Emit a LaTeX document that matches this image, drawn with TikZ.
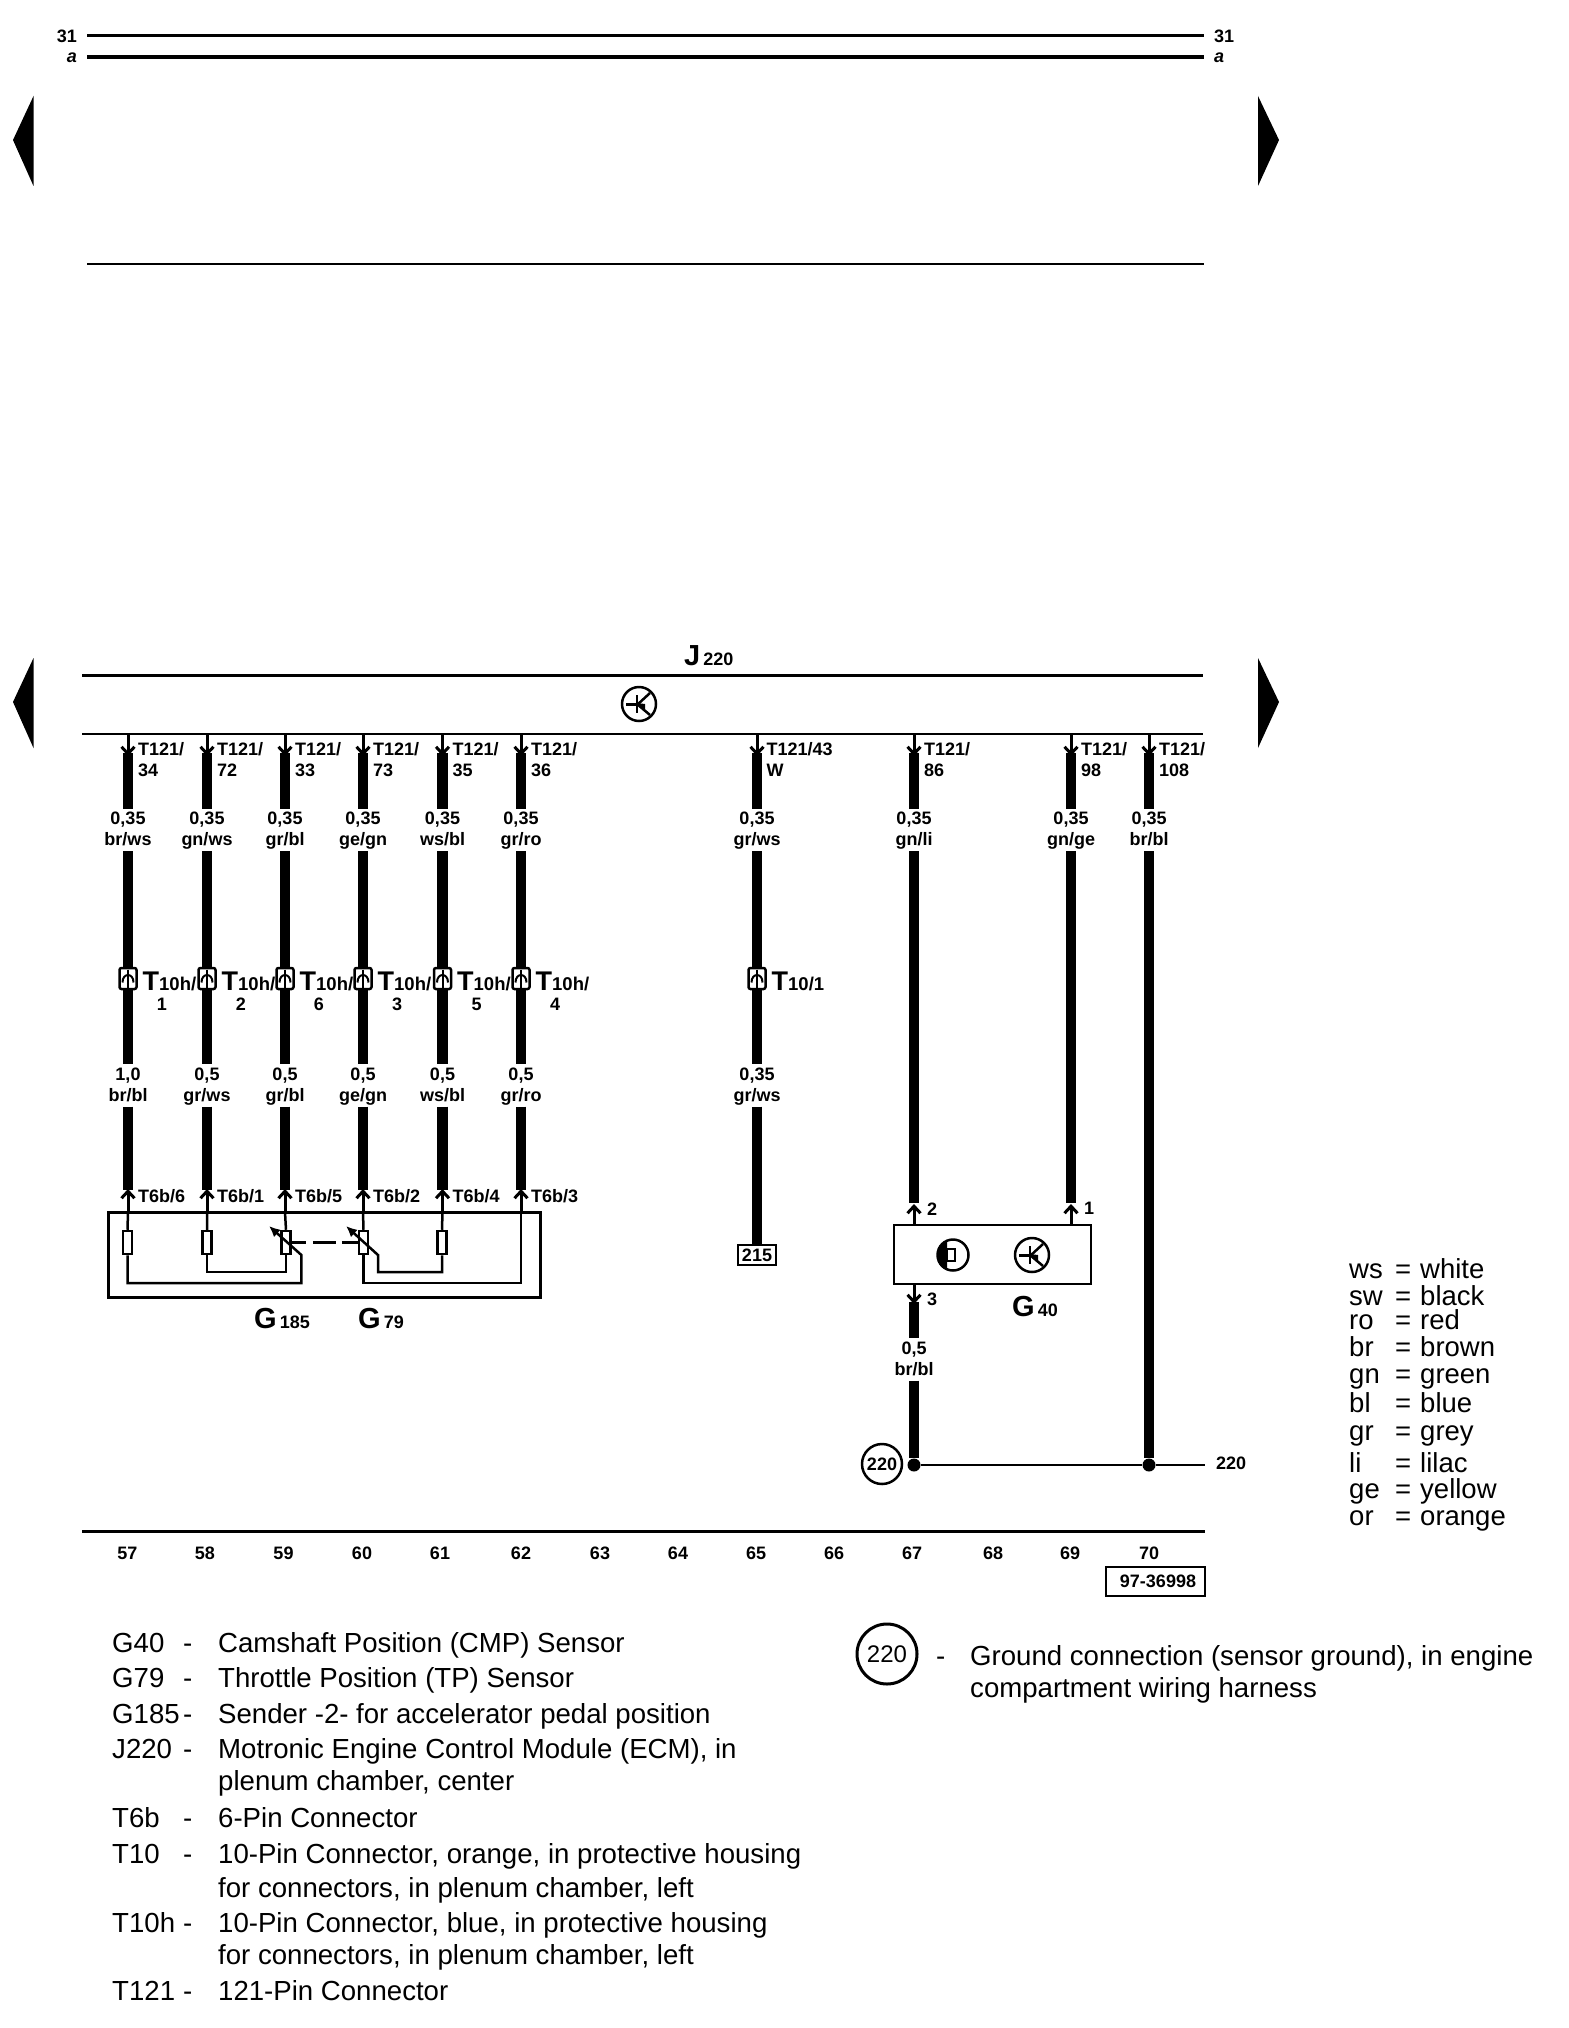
\documentclass[tikz,border=0pt]{standalone}
\usepackage{fontspec}
\setmainfont{Liberation Sans}
\usetikzlibrary{arrows.meta}
\newcommand{\twoline}[2]{#1\rule{0pt}{14pt}\\#2\rule[-4pt]{0pt}{4pt}}
\newcommand{\bigsub}[2]{{\fontsize{29}{29}\selectfont #1}{\fontsize{18}{18}\selectfont\,#2}}
\tikzset{
  wire/.style={line width=10.7pt},
  stub/.style={line width=3pt,->},
  rail/.style={line width=3pt},
  tag/.style={font=\bfseries\fontsize{18}{21}\selectfont,inner sep=0pt},
  gauge/.style={tag,align=center,minimum height=42pt},
  pinlab/.style={tag,align=left,anchor=north west},
  note/.style={font=\fontsize{27.6}{27.6}\selectfont,inner sep=0pt,anchor=base west},
  key/.style={font=\fontsize{27.5}{27.5}\selectfont,inner sep=0pt,anchor=base west},
  housing/.style={draw,line width=2.5pt,fill=white,rounded corners=2pt,inner sep=0pt,minimum width=17pt,minimum height=21pt},
  resistor/.style={draw,line width=2.5pt,fill=white,inner sep=0pt,minimum width=9pt,minimum height=23pt},
  inner/.style={line width=2.5pt},
  dot/.style={circle,fill,inner sep=0pt,minimum size=13pt},
  rotor/.pic={
    \draw[line width=2.5pt](0,0)circle(17);
    \draw[line width=3pt](-13,0)--(0,0);
    \draw[line width=2.5pt](-2,-9)--(-2,9);
    \draw[line width=2.5pt](-2,1)--(11,-11)(-2,0)--(11,11);
    \fill(-2,-1)--(6,0)--(6,8)--cycle;
  },
  hall/.pic={
    \draw[line width=2.5pt](0,0)circle(15.5);
    \fill(-6,14.3)arc(113:247:15.5)--cycle;
    \draw[line width=2.5pt](-6,-6)rectangle(2,6);
  },
  conpin/.pic={
    \draw[line width=2pt](0,-9)--(0,11);
    \draw[line width=2pt](-5.5,4)..controls(-5.5,-6)and(5.5,-6)..(5.5,4);
  }
}
\begin{document}
\begin{tikzpicture}[x=1pt,y=-1pt,>={Straight Barb[length=7pt,width=13pt]}]
\useasboundingbox(0,0)rectangle(1568,2028);
% top rails and page arrows
\node[tag,anchor=east](lt31)at(77,36){31};
\node[tag,anchor=east,font=\bfseries\itshape\fontsize{18}{21}\selectfont](lta)at(77,58){a};
\node[tag,anchor=west](rt31)at(1214,36){31};
\node[tag,anchor=west,font=\bfseries\itshape\fontsize{18}{21}\selectfont](rta)at(1214,58){a};
\draw[rail]([xshift=10pt]lt31.east)--([xshift=-10pt]rt31.west);
\draw[line width=4pt](87,57)--(1204,57);
\draw[line width=2.5pt](87,264)--(1204,264);
\foreach \ty in {96,658}{
  \fill(13,\ty+44)--(33.5,\ty)--(33.5,\ty+90)--cycle;
  \fill(1279,\ty+44)--(1258,\ty)--(1258,\ty+90)--cycle;
}
% control module
\node[tag,anchor=base west](j220)at(684,665){\bigsub{J}{220}};
\draw[rail](82,675)--(1203,675);
\draw[line width=2.5pt](82,734)--(1203,734);
\pic at(639,704){rotor};
% six wires down to the pedal sender
\foreach \wx/\wn/\wt/\wg/\wc/\wi/\wm/\wk/\wz in {
  128/57/34/{br/ws}/1/{1,0}/{br/bl}/6/1,
  207/58/72/{gn/ws}/2/{0,5}/{gr/ws}/1/1,
  285/59/33/{gr/bl}/6/{0,5}/{gr/bl}/5/1,
  363/60/73/{ge/gn}/3/{0,5}/{ge/gn}/2/1,
  442.5/61/35/{ws/bl}/5/{0,5}/{ws/bl}/4/1,
  521/62/36/{gr/ro}/4/{0,5}/{gr/ro}/3/1}{
  \coordinate(top\wn)at(\wx,734);
  \coordinate(tip\wn)at(\wx,756);
  \coordinate(bot\wn)at(\wx,1190);
  \coordinate(box\wn)at(\wx,1212);
  \node[pinlab](pt\wn)at(\wx+10,741.5){T121/\rule{0pt}{14pt}\\\wt};
  \node[gauge](up\wn)at(\wx,830){\twoline{0,35}{\wg}};
  \node[housing](con\wn)at(\wx,978.5){};
  \pic at(\wx,978.5){conpin};
  \node[tag,anchor=base west](ct\wn)at(\wx+14.5,990){{\fontsize{27}{27}\selectfont T}{\fontsize{18.5}{18.5}\selectfont 10h/}};
  \node[tag](cn\wn)at(\wx+34,1004){\wc};
  \node[gauge](lo\wn)at(\wx,1085.5){\twoline{\wi}{\wm}};
  \node[tag,anchor=base west](pb\wn)at(\wx+10,1202.5){T6b/\wk};
  \draw[stub](top\wn)--(tip\wn);
  \draw[wire](\wx,753)--(up\wn.north);
  \draw[wire](up\wn.south)--(con\wn.north);
  \draw[wire](con\wn.south)--(lo\wn.north);
  \draw[wire](lo\wn.south)--(bot\wn);
  \draw[stub](box\wn)--(\wx,1189);
}
% sender housing
\draw[line width=3pt](108.5,1212)rectangle(540.7,1297);
\node[resistor](r57)at(127.5,1242.5){};
\node[resistor](r58)at(207,1242.5){};
\node[resistor](r59)at(286,1242.5){};
\node[resistor](r60)at(363.5,1242.5){};
\node[resistor](r61)at(442,1242.5){};
\draw[inner](box57)--(r57.north)(box58)--(r58.north)(box59)--(r59.north)(box60)--(r60.north)(box61)--(r61.north);
\draw[inner](r58.south)--(207,1272)-|(r59.south);
\draw[inner](r60.south)--(363.5,1283)-|(box62);
\draw[inner,-{Latex[length=11pt,width=10pt]}](r57.south)--(127.5,1283)-|(301.4,1255)--(269,1226);
\draw[inner,-{Latex[length=11pt,width=10pt]}](r61.south)--(442,1272)-|(378,1255)--(346,1226);
\draw[line width=3pt,dash pattern=on 14pt off 7pt on 23pt off 6pt on 17pt](r59.east)--(r60.west);
\node[tag,anchor=base west](g185)at(254,1328){\bigsub{G}{185}};
\node[tag,anchor=base west](g79)at(358,1328){\bigsub{G}{79}};
% wire to connector 215
\coordinate(top65)at(757,734);
\coordinate(tip65)at(757,756);
\node[pinlab](pt65)at(766.5,741.5){T121/43\rule{0pt}{14pt}\\W};
\node[gauge](up65)at(757,830){\twoline{0,35}{gr/ws}};
\node[housing](con65)at(757,978.5){};
\pic at(757,978.5){conpin};
\node[tag,anchor=base west](ct65)at(771.5,990){{\fontsize{27}{27}\selectfont T}{\fontsize{18.5}{18.5}\selectfont 10/1}};
\node[gauge](lo65)at(757,1085.5){\twoline{0,35}{gr/ws}};
\node[draw,line width=2.5pt,tag,minimum width=38pt,minimum height=20pt](c215)at(757,1255){215};
\draw[stub](top65)--(tip65);
\draw[wire](757,753)--(up65.north);
\draw[wire](up65.south)--(con65.north);
\draw[wire](con65.south)--(lo65.north);
\draw[wire](lo65.south)--(c215.north);
% camshaft sensor
\node[draw,line width=2.5pt,inner sep=0pt,minimum width=197pt,minimum height=59pt](g40)at(992.5,1254.5){};
\pic at(953,1255){hall};
\pic at(1032,1255){rotor};
\node[tag,anchor=base west](g40t)at(1012,1316){\bigsub{G}{40}};
\node[tag](p2)at(932,1209){2};
\node[tag](p1)at(1089,1208){1};
\node[tag](p3)at(932,1299){3};
\foreach \wx/\wn/\wt/\wg in {914/67/86/{gn/li},1071/69/98/{gn/ge},1149/70/108/{br/bl}}{
  \coordinate(top\wn)at(\wx,734);
  \coordinate(tip\wn)at(\wx,756);
  \node[pinlab](pt\wn)at(\wx+10,741.5){T121/\rule{0pt}{14pt}\\\wt};
  \node[gauge](up\wn)at(\wx,830){\twoline{0,35}{\wg}};
  \draw[stub](top\wn)--(tip\wn);
  \draw[wire](\wx,753)--(up\wn.north);
}
\draw[wire](up67.south)--(914,1203);
\draw[wire](up69.south)--(1071,1203);
\draw[stub](914,1225)--(914,1204);
\draw[stub](1071,1225)--(1071,1204);
\draw[stub](914,1284)--(914,1304);
\node[gauge](lo67)at(914,1359.5){\twoline{0,5}{br/bl}};
\draw[wire](914,1302)--(lo67.north);
% ground point
\node[dot](n67)at(914,1465){};
\node[dot](n70)at(1149,1465){};
\node[draw,circle,line width=2.5pt,tag,minimum size=40pt](gnd)at(882,1464){220};
\node[tag,anchor=west](gt)at(1216,1463){220};
\coordinate(gend)at(1205,1465);
\draw[wire](lo67.south)--(n67);
\draw[wire](up70.south)--(n70);
\draw[line width=2pt](n67)--(n70)--(gend);
% bottom rail and track numbers
\draw[rail](82,1531)--(1205,1531);
\foreach \wx/\wn in {127.5/57,205/58,283.5/59,362/60,440/61,521/62,600/63,678/64,756/65,834/66,912/67,993/68,1070/69,1149/70}{
  \node[tag](nr\wn)at(\wx,1553.5){\wn};
}
\node[draw,line width=2pt,tag,minimum width=99pt,minimum height=29pt](ref)at(1155.5,1581.5){\hspace*{5pt}97-36998};
% colour key
\foreach \ky/\ka/\kb in {1278/ws/white,1305/sw/black,1329/ro/red,1356/br/brown,1383/gn/green,1412/bl/blue,1440/gr/grey,1472/li/lilac,1498/ge/yellow,1525/or/orange}{
  \node[key](k\ka)at(1349,\ky){\ka};
  \node[key](e\ka)at(1395,\ky){=};
  \node[key](v\ka)at(1420,\ky){\kb};
}
% parts list
\foreach \ny/\na/\nb in {1652/G40/Camshaft Position (CMP) Sensor,1687/G79/Throttle Position (TP) Sensor,1723/G185/Sender -2- for accelerator pedal position,1758/J220/{Motronic Engine Control Module (ECM), in},1827/T6b/6-Pin Connector,1863/T10/{10-Pin Connector, orange, in protective housing},1932/T10h/{10-Pin Connector, blue, in protective housing},2000/T121/121-Pin Connector}{
  \node[note](n\na)at(112,\ny){\na};
  \node[note](d\na)at(183,\ny){-};
  \node[note](t\na)at(218,\ny){\nb};
}
\node[note](l1)at(218,1790){plenum chamber, center};
\node[note](l2)at(218,1897){for connectors, in plenum chamber, left};
\node[note](l3)at(218,1964){for connectors, in plenum chamber, left};
\node[draw,circle,line width=3pt,inner sep=0pt,minimum size=60pt,font=\fontsize{24}{24}\selectfont](gnd2)at(887,1654){220};
\node[note](d220)at(936,1665){-};
\node[note](t220)at(970,1665){Ground connection (sensor ground), in engine};
\node[note](l4)at(970,1697){compartment wiring harness};
\end{tikzpicture}
\end{document}
